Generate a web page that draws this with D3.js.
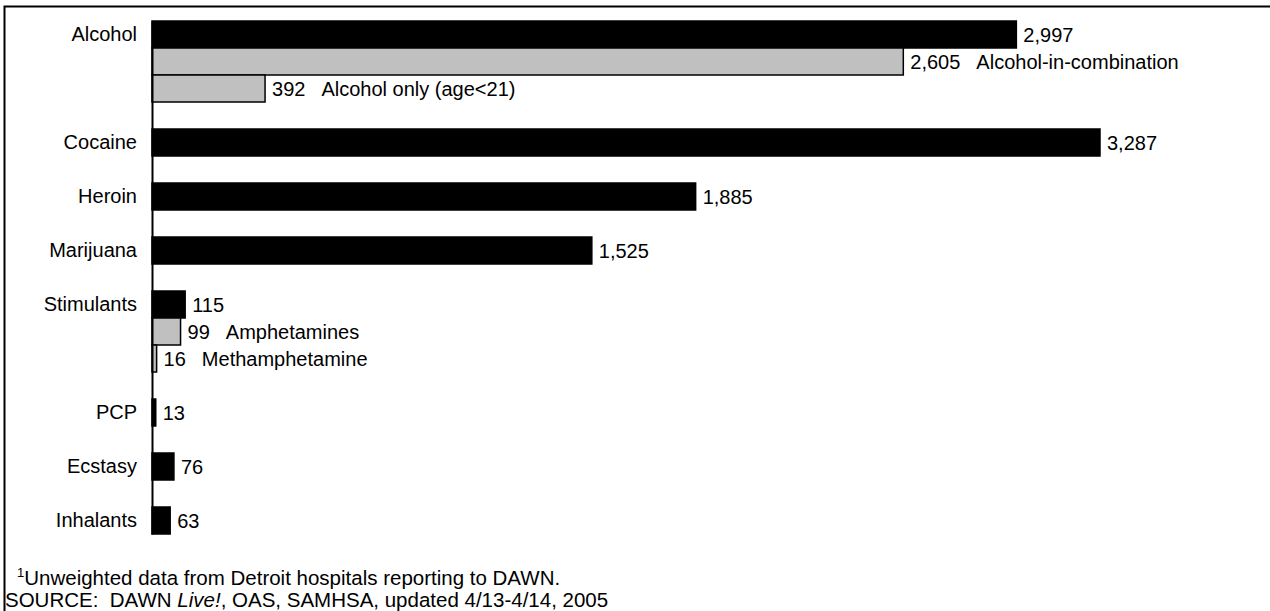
<!DOCTYPE html>
<html>
<head>
<meta charset="utf-8">
<script src="https://cdn.jsdelivr.net/npm/d3@7"></script>
<style>
  html, body { margin: 0; padding: 0; background: #fff; }
  svg { display: block; }
  text { font-family: Arial, "Liberation Sans", Helvetica, sans-serif; fill: #000; }
</style>
</head>
<body>
<svg id="chart" width="1270" height="611"></svg>
<script>
// ---- data ----
const categories = ["Alcohol", "Cocaine", "Heroin", "Marijuana", "Stimulants", "PCP", "Ecstasy", "Inhalants"];
const totals     = [2997, 3287, 1885, 1525, 115, 13, 76, 63];
const subLabels  = ["Alcohol-in-combination", "Alcohol only (age<21)", "Amphetamines", "Methamphetamine"];
const subValues  = [2605, 392, 99, 16];
const subParents = ["Alcohol", "Alcohol", "Stimulants", "Stimulants"];
const footnote1  = "Unweighted data from Detroit hospitals reporting to DAWN.";
const footnoteSup = "1";

// ---- build rows ----
const rows = [];
categories.forEach((c, i) => {
  rows.push({ id: "t-" + c, cat: c, value: totals[i], type: "total" });
  subLabels.forEach((s, j) => {
    if (subParents[j] === c) rows.push({ id: "s-" + s, cat: s, value: subValues[j], type: "sub" });
  });
  if (i < categories.length - 1) rows.push({ id: "g-" + c, type: "gap" });
});

const svg = d3.select("#chart");
const fmt = d3.format(",");

// frame
svg.append("rect")
  .attr("x", 4.5).attr("y", 6.5)
  .attr("width", 1300).attr("height", 700)
  .attr("fill", "none").attr("stroke", "#000").attr("stroke-width", 2);

const x = d3.scaleLinear().domain([0, 3287]).range([152, 1100]);
const y = d3.scaleBand().domain(rows.map(r => r.id)).range([21, 534]).padding(0);

const bars = rows.filter(r => r.type !== "gap");

svg.append("g").selectAll("rect")
  .data(bars)
  .join("rect")
  .attr("x", x(0))
  .attr("y", d => y(d.id))
  .attr("width", d => x(d.value) - x(0))
  .attr("height", y.bandwidth())
  .attr("fill", d => d.type === "total" ? "#000" : "#c0c0c0")
  .attr("stroke", "#000")
  .attr("stroke-width", 1.5);

// axis with category labels
const labelOf = {};
rows.forEach(r => { labelOf[r.id] = r.type === "total" ? r.cat : ""; });
const axis = d3.axisLeft(y).tickSize(0).tickSizeOuter(0).tickPadding(15).tickFormat(id => labelOf[id]);
const gA = svg.append("g").attr("transform", `translate(${x(0)},0)`).call(axis);
gA.select(".domain").attr("stroke", "#000").attr("stroke-width", 2);
gA.selectAll("text").attr("font-size", 20).attr("font-family", "Arial, 'Liberation Sans', sans-serif").attr("fill", "#000");

// value labels
const vl = svg.append("g").selectAll("text")
  .data(bars)
  .join("text")
  .attr("x", d => x(d.value) + 7)
  .attr("y", d => y(d.id) + y.bandwidth() / 2)
  .attr("dy", "0.36em")
  .attr("font-size", 20);
vl.append("tspan").text(d => fmt(d.value));
vl.filter(d => d.type === "sub").append("tspan").attr("dx", 16).text(d => d.cat);

// footnote
const f1 = svg.append("text").attr("x", 17).attr("y", 585).attr("font-size", 20.5);
f1.append("tspan").attr("font-size", 13).attr("dy", -8).text(footnoteSup);
f1.append("tspan").attr("dy", 8).text(footnote1);

const f2 = svg.append("text").attr("x", 5).attr("y", 607).attr("font-size", 20.5);
f2.append("tspan").text("SOURCE:  DAWN ");
f2.append("tspan").attr("font-style", "italic").text("Live!");
f2.append("tspan").text(", OAS, SAMHSA, updated 4/13-4/14, 2005");
f2.attr("xml:space", "preserve");
</script>
</body>
</html>
